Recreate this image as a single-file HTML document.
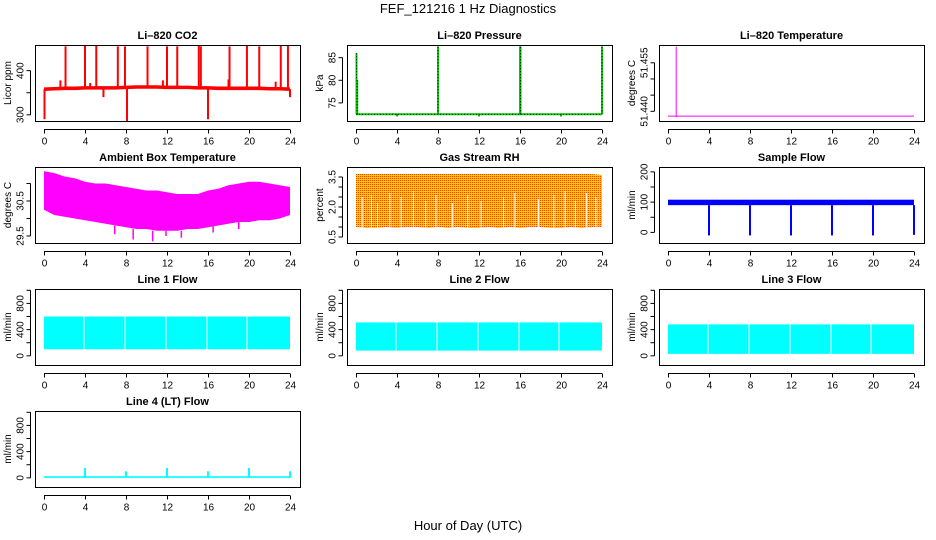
<!DOCTYPE html>
<html><head><meta charset="utf-8"><style>
html,body{margin:0;padding:0;background:#fff;}
svg{display:block;font-family:"Liberation Sans",Arial,sans-serif;}
</style></head><body>
<svg id="c" width="936" height="540" xmlns="http://www.w3.org/2000/svg">
<defs><pattern id="rhpat" width="2" height="2" patternUnits="userSpaceOnUse"><rect width="2" height="2" fill="#ffcc00"/><rect width="1" height="1" fill="#ff4000"/></pattern></defs>
<text x="468" y="13" text-anchor="middle" font-size="13">FEF_121216  1 Hz Diagnostics</text>
<text x="468" y="530" text-anchor="middle" font-size="13">Hour of Day (UTC)</text>
</svg>
<script>
// ---- data arrays ----
const hours = [0,1,2,3,4,5,6,7,8,9,10,11,12,13,14,15,16,17,18,19,20,21,22,23,24];
const xTicks = [0,4,8,12,16,20,24];
const co2Base = [358,359,360,360,361,361,361,361,362,363,363,363,362,362,362,361,361,360,360,360,360,360,359,359,358];
const co2SpikeT = [0.05,1.6,2.1,4.0,4.5,5.1,5.8,7.2,7.9,8.1,10.1,11.6,12.0,13.0,15.1,15.3,16.0,18.0,18.1,19.8,21.0,22.6,23.1,23.8,24.0];
const co2SpikeV = [290,378,455,457,372,456,340,455,455,285,455,378,455,455,456,455,290,380,455,457,455,375,456,456,340];
const presSpikeT = [0.05,0.12,4.0,8.0,12.0,16.0,16.05,20.0,24.0];
const presSpikeV = [86,80,72,87.5,72,87.5,87.5,72,87.5];
const presBase = 72.5;
const tempBase = 51.4385;
const tempSpikeT = [0.8];
const tempSpikeV = [51.46];
const ambMax = [31.35,31.3,31.2,31.15,31.05,31.0,31.0,30.95,30.9,30.85,30.8,30.8,30.75,30.7,30.7,30.7,30.8,30.85,30.95,31.0,31.05,31.05,31.0,30.95,30.9];
const ambMin = [30.25,30.1,30.05,30.0,29.95,29.9,29.85,29.8,29.75,29.7,29.7,29.65,29.65,29.65,29.7,29.7,29.75,29.8,29.85,29.9,29.9,29.95,29.95,30.0,30.1];
const ambSpikeT = [6.9,8.7,10.6,11.9,13.4,16.5,19.0];
const ambSpikeV = [29.55,29.4,29.35,29.5,29.45,29.6,29.7];
const rhMax = [3.65,3.65,3.65,3.65,3.65,3.65,3.65,3.65,3.65,3.65,3.65,3.65,3.65,3.65,3.65,3.65,3.65,3.65,3.65,3.65,3.65,3.65,3.65,3.65,3.6];
const rhMin = [1.0,0.95,0.95,1.0,0.95,1.0,1.0,0.95,1.0,0.95,1.0,0.95,0.95,1.0,0.95,1.0,0.95,1.0,1.0,0.95,0.95,1.0,0.95,1.0,1.0];
const rhGapT = [0.6,1.5,2.1,3.3,4.4,5.6,6.8,7.8,9.4,10.9,12.2,14.4,15.5,17.8,19.3,20.4,21.4,22.5,23.4];
const rhGapV = [2.5,2.6,2.2,2.7,2.5,2.8,2.3,2.6,2.2,2.6,2.3,2.5,2.7,2.4,2.6,2.8,2.3,2.7,2.5];
const sfLow = 90, sfHigh = 108;
const sfDropT = [4.0,8.0,12.0,16.0,20.0,24.0];
const sfDropV = [-10,-10,-10,-10,-10,-8];
const l1Min = 100, l1Max = 600;
const l2Min = 80, l2Max = 510;
const l3Min = 30, l3Max = 480;
const flowGapT = [3.9,7.9,11.9,15.9,19.8];
const l4SpikeT = [4.0,8.0,12.0,16.0,20.0,24.0];
const l4SpikeV = [150,100,150,100,150,100];

// ---- layout ----
const svg = document.getElementById('c');
const NS = 'http://www.w3.org/2000/svg';
const cols = [[35,300],[347,612],[659,924]];
const rows = [45,167,289,411];
const BH = 76;
function el(tag, attrs, parent){const e=document.createElementNS(NS,tag);for(const k in attrs)e.setAttribute(k,attrs[k]);(parent||svg).appendChild(e);return e;}

function panel(ci, ri, title, ylab, ymin, ymax, yTicks, yLabels, name, fmt){
  const [L,R]=cols[ci], T=rows[ri], B=T+BH;
  const g=el('g',{});
  
  
  const x0=L+9, x1=R-10;
  const sx=v=>x0+(v/24)*(x1-x0);
  const sy=v=>B-(v-ymin)/(ymax-ymin)*BH;
  const t=el('text',{x:(L+R)/2,y:T-6,'text-anchor':'middle','font-size':11,'font-weight':'bold'},g);
  t.textContent=title;
  
  
  const plot=el('g',{},g);
  
  
  const box=el('rect',{x:L+0.5,y:T+0.5,width:R-L,height:BH,fill:'none',stroke:'#000','stroke-width':1},g);
  
  
  const xa=el('g',{},g);
  
  
  const ay=B+8.5;
  el('line',{x1:sx(0),x2:sx(24),y1:ay,y2:ay,stroke:'#000'},xa);
  xTicks.forEach(v=>{
    el('line',{x1:sx(v)+0.5,x2:sx(v)+0.5,y1:ay,y2:ay+4,stroke:'#000'},xa);
    const tl=el('text',{x:sx(v)+0.5,y:ay+15,'text-anchor':'middle','font-size':10},xa);
    tl.textContent=v;
  });
  const ya=el('g',{},g);
  
  
  const axx=L-4.5;
  el('line',{x1:axx,x2:axx,y1:sy(yTicks[0]),y2:sy(yTicks[yTicks.length-1]),stroke:'#000'},ya);
  yTicks.forEach(v=>{el('line',{x1:axx-4,x2:axx,y1:sy(v),y2:sy(v),stroke:'#000'},ya);});
  yLabels.forEach(v=>{
    const yy=sy(v);
    const tl=el('text',{x:axx-7,y:yy,'text-anchor':'middle','font-size':10,transform:`rotate(-90 ${axx-7} ${yy})`},ya);
    tl.textContent=fmt?fmt(v):v;
  });
  const yt=el('text',{x:L-24,y:(T+B)/2,'text-anchor':'middle','font-size':10,transform:`rotate(-90 ${L-24} ${(T+B)/2})`},g);
  yt.textContent=ylab;
  
  
  return {sx,sy,plot,L,R,T,B};
}
function vline(p,x,ya,yb,color,w){return el('line',{x1:x,x2:x,y1:ya,y2:yb,stroke:color,'stroke-width':w||1.5},p);}
function band(P,mins,maxs,fill){
  let d='';
  hours.forEach((h,i)=>{d+=(i?'L':'M')+P.sx(h)+' '+P.sy(maxs[i]);});
  for(let i=hours.length-1;i>=0;i--)d+='L'+P.sx(hours[i])+' '+P.sy(mins[i]);
  return el('path',{d:d+'Z',fill:fill},P.plot);
}

// CO2
let P=panel(0,0,'Li\u2013820 CO2','Licor ppm',286,458,[300,350,400],[300,400],'co2');
band(P,co2Base.map(v=>v-4),co2Base.map(v=>v+4),'#ff0000');
co2SpikeT.forEach((t,i)=>{vline(P.plot,P.sx(t),P.sy(co2Base[Math.round(t)]),P.sy(co2SpikeV[i]),'#ff0000',2);});

// Pressure
P=panel(1,0,'Li\u2013820 Pressure','kPa',71,87.8,[75,80,85],[75,80,85],'pressure');
el('line',{x1:P.sx(0),x2:P.sx(24),y1:P.sy(presBase),y2:P.sy(presBase),stroke:'#00cc00','stroke-width':2},P.plot);
el('line',{x1:P.sx(0),x2:P.sx(24),y1:P.sy(presBase),y2:P.sy(presBase),stroke:'#000','stroke-width':1,'stroke-dasharray':'1 2'},P.plot);
presSpikeT.forEach((t,i)=>{vline(P.plot,P.sx(t),P.sy(presBase),P.sy(presSpikeV[i]),'#00cc00',2);
  el('line',{x1:P.sx(t),x2:P.sx(t),y1:P.sy(presBase),y2:P.sy(presSpikeV[i]),stroke:'#000','stroke-width':1,'stroke-dasharray':'1 2'},P.plot);});

// Li-820 temperature
P=panel(2,0,'Li\u2013820 Temperature','degrees C',51.437,51.4605,[51.44,51.445,51.45,51.455],[51.44,51.455],'li820-temperature',v=>v.toFixed(3));
el('line',{x1:P.sx(0),x2:P.sx(24),y1:P.sy(tempBase),y2:P.sy(tempBase),stroke:'#ff00ff','stroke-width':1},P.plot);
tempSpikeT.forEach((t,i)=>{vline(P.plot,P.sx(t),P.sy(tempBase)+1,P.sy(tempSpikeV[i]),'#ff00ff',1);});

// Ambient
P=panel(0,1,'Ambient Box Temperature','degrees C',29.3,31.47,[29.5,30,30.5,31],[29.5,30.5],'ambient-temperature',v=>v.toFixed(1));
band(P,ambMin,ambMax,'#ff00ff');
ambSpikeT.forEach((t,i)=>{vline(P.plot,P.sx(t),P.sy(ambMin[Math.round(t)]),P.sy(ambSpikeV[i]),'#ff00ff',1.5);});

// RH
P=panel(1,1,'Gas Stream RH','percent',0.2,4.0,[0.5,1,1.5,2,2.5,3,3.5],[0.5,2.0,3.5],'gas-stream-rh',v=>v.toFixed(1));
band(P,rhMin,rhMax,'url(#rhpat)');
rhGapT.forEach((t,i)=>{vline(P.plot,P.sx(t),P.sy(rhMin[Math.round(t)])+1,P.sy(rhGapV[i]),'#ffffff',1);});

// Sample flow
P=panel(2,1,'Sample Flow','ml/min',-35,216,[0,50,100,150,200],[0,100,200],'sample-flow');
el('rect',{x:P.sx(0),y:P.sy(sfHigh),width:P.sx(24)-P.sx(0),height:P.sy(sfLow)-P.sy(sfHigh),fill:'#0000ff'},P.plot);
sfDropT.forEach((t,i)=>{vline(P.plot,P.sx(t),P.sy(sfLow),P.sy(sfDropV[i]),'#0000ff',2);});

// Line flows
const flows=[[0,2,'Line 1 Flow',l1Min,l1Max,'line1-flow'],[1,2,'Line 2 Flow',l2Min,l2Max,'line2-flow'],[2,2,'Line 3 Flow',l3Min,l3Max,'line3-flow']];
flows.forEach(f=>{
  const Q=panel(f[0],f[1],f[2],'ml/min',-140,1020,[0,200,400,600,800,1000],[0,400,800],f[5]);
  el('rect',{x:Q.sx(0),y:Q.sy(f[4]),width:Q.sx(24)-Q.sx(0),height:Q.sy(f[3])-Q.sy(f[4]),fill:'#00ffff'},Q.plot);
  flowGapT.forEach(t=>{vline(Q.plot,Q.sx(t),Q.sy(f[3])+1,Q.sy(f[4])-1,'#ffffff',1);});
});

// Line 4
P=panel(0,3,'Line 4 (LT) Flow','ml/min',-140,1020,[0,200,400,600,800,1000],[0,400,800],'line4-flow');
el('rect',{x:P.sx(0),y:P.sy(25),width:P.sx(24)-P.sx(0),height:P.sy(0)-P.sy(25),fill:'#00ffff'},P.plot);
l4SpikeT.forEach((t,i)=>{vline(P.plot,P.sx(t),P.sy(0),P.sy(l4SpikeV[i]),'#00ffff',2);});
</script>
</body></html>
